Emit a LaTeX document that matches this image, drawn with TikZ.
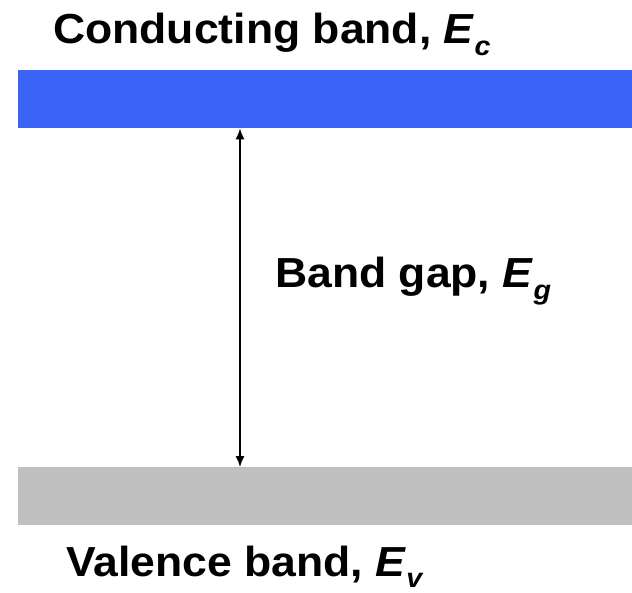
\documentclass[tikz,border=0pt]{standalone}
\usepackage{fontspec}
\setmainfont[FakeStretch=1.06]{Liberation Sans}
\usetikzlibrary{positioning,arrows.meta}

\definecolor{condblue}{RGB}{59,99,245}
\definecolor{valgray}{RGB}{191,191,191}

% energy symbol with a lowered subscript
\newcommand{\energy}[1]{\textit{E}\raisebox{-0.28em}{\fontsize{27}{27}\selectfont\textit{#1}}}

\begin{document}
\begin{tikzpicture}[
  x=1pt, y=-1pt,
  >={Latex[length=11pt,width=9pt]},
  band/.style={minimum width=614pt, minimum height=58pt, inner sep=0pt, anchor=north west},
  bandtext/.style={font=\fontsize{42}{48}\selectfont\bfseries, inner sep=0pt, anchor=base west}
]
\useasboundingbox (0,0) rectangle (632,593);

\node[band, fill=condblue] (cb) at (18,70)  {};
\node[band, fill=valgray]  (vb) at (18,467) {};

\node[bandtext] (cbtext)  at (53,44)   {Conducting band, \energy{c}};
\node[bandtext] (gaptext) at (275,288) {Band gap, \energy{g}};
\node[bandtext] (vbtext)  at (66,576)  {Valence band, \energy{v}};

\draw[<->, line width=1.3pt] ([xshift=222pt]cb.south west) -- ([xshift=222pt]vb.north west);

\end{tikzpicture}
\end{document}
